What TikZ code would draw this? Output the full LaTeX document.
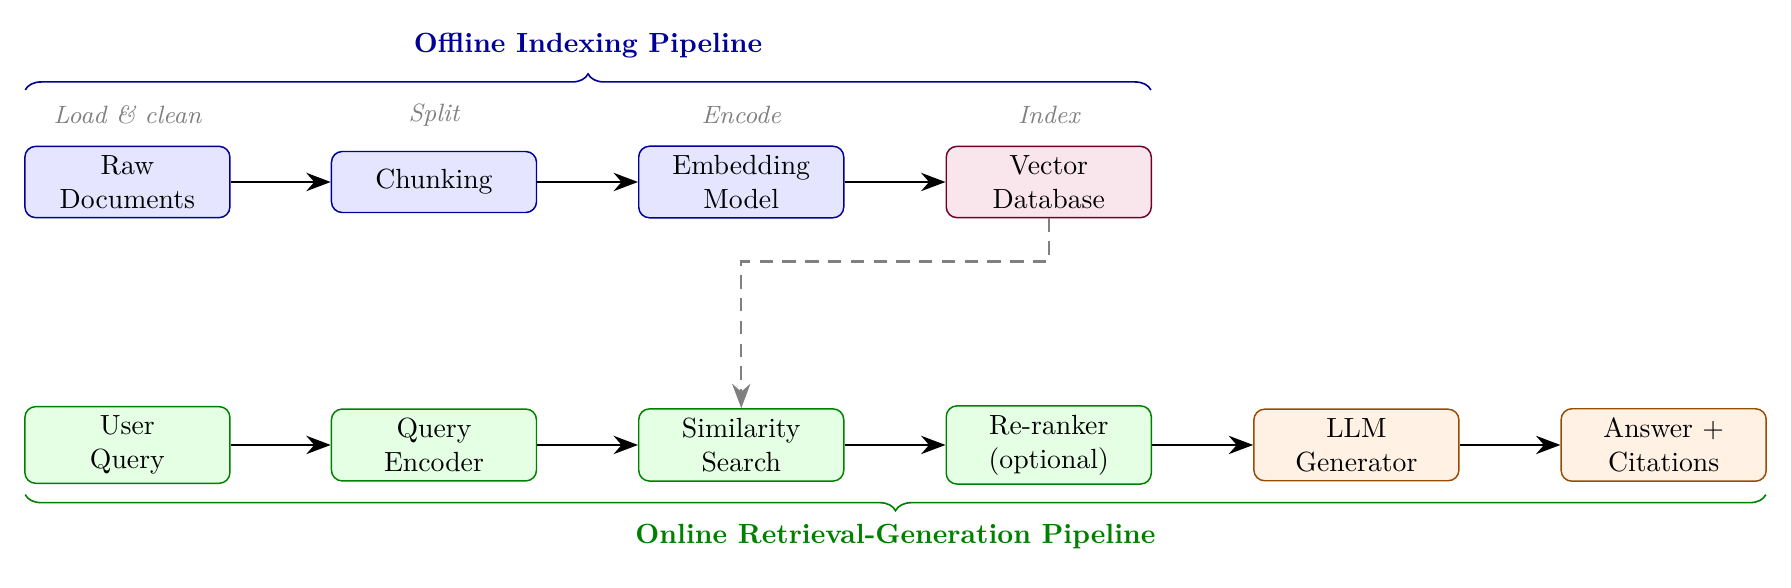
\documentclass[tikz,border=0pt]{standalone}
\usetikzlibrary{arrows.meta,decorations.pathreplacing,calc}
\begin{document}
\begin{tikzpicture}[
  font=\fontsize{10.35}{12.6}\selectfont,
  box/.style={draw, rounded corners=4pt, minimum width=2.68cm, minimum height=0.8cm, text width=2.45cm, align=center, inner sep=3.4pt, line width=0.55pt},
  offbox/.style={box, draw=blue!60!black, fill=blue!10},
  dbbox/.style={box, draw=purple!60!black, fill=purple!10},
  onbox/.style={box, draw=green!50!black, fill=green!10},
  genbox/.style={box, draw=orange!60!black, fill=orange!10},
  steplabel/.style={font=\fontsize{9.35}{11}\selectfont\itshape, text=gray},
  flow/.style={-{Stealth[length=3.2mm,width=2.4mm]}, line width=0.9pt},
  feed/.style={-{Stealth[length=3.2mm,width=2.4mm]}, line width=0.9pt, gray, dashed, dash pattern=on 5pt off 3.5pt},
  bracetop/.style={decorate, decoration={brace, amplitude=6pt}, draw=blue!60!black, line width=0.6pt},
  bracebot/.style={decorate, decoration={brace, amplitude=6pt, mirror}, draw=green!50!black, line width=0.6pt}
]
\useasboundingbox (0,0) rectangle (23.49,-7.70);
% top row
\node[offbox] (raw) at (1.671,-2.387) {Raw\\Documents};
\node[offbox] (chunk) at (5.692,-2.387) {Chunking};
\node[offbox] (embed) at (9.722,-2.387) {Embedding\\Model};
\node[dbbox] (vdb) at (13.755,-2.387) {Vector\\Database};
% step labels
\node[steplabel] (l1) at (1.671,-1.508) {Load \& clean};
\node[steplabel] (l2) at (5.692,-1.508) {Split};
\node[steplabel] (l3) at (9.722,-1.508) {Encode};
\node[steplabel] (l4) at (13.755,-1.508) {Index};
% bottom row
\node[onbox] (uq) at (1.671,-5.836) {User\\Query};
\node[onbox] (qe) at (5.692,-5.836) {Query\\Encoder};
\node[onbox] (ss) at (9.722,-5.836) {Similarity\\Search};
\node[onbox] (rr) at (13.755,-5.836) {Re-ranker\\(optional)};
\node[genbox] (llm) at (17.79,-5.836) {LLM\\Generator};
\node[genbox] (ans) at (21.82,-5.836) {Answer +\\Citations};
% arrows
\draw[flow] (raw) -- (chunk);
\draw[flow] (chunk) -- (embed);
\draw[flow] (embed) -- (vdb);
\draw[flow] (uq) -- (qe);
\draw[flow] (qe) -- (ss);
\draw[flow] (ss) -- (rr);
\draw[flow] (rr) -- (llm);
\draw[flow] (llm) -- (ans);
\coordinate (bend1) at (13.755,-3.43);
\coordinate (bend2) at (9.722,-3.43);
\draw[feed] (vdb.south) -- (bend1) -- (bend2) -- (ss.north);
% braces
\coordinate (tb1) at (0.331,-1.18);
\coordinate (tb2) at (15.095,-1.18);
\draw[bracetop] (tb1) -- (tb2);
\node[font=\fontsize{10.35}{12.6}\selectfont\bfseries, text=blue!60!black] (ttop) at (7.713,-0.60) {Offline Indexing Pipeline};
\coordinate (bb1) at (0.331,-6.487);
\coordinate (bb2) at (23.16,-6.487);
\draw[bracebot] (bb1) -- (bb2);
\node[font=\fontsize{10.35}{12.6}\selectfont\bfseries, text=green!50!black] (tbot) at (11.745,-7.04) {Online Retrieval-Generation Pipeline};
\end{tikzpicture}
\end{document}
